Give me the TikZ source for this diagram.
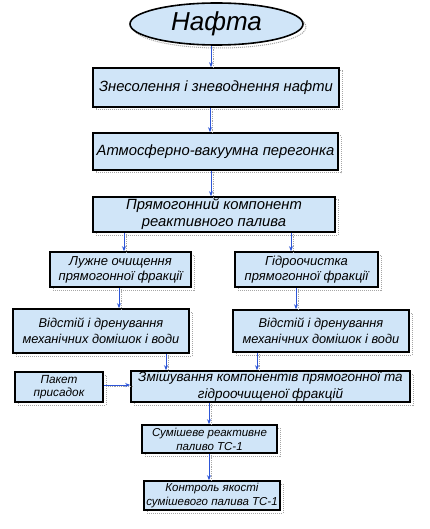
\documentclass[tikz,border=0pt]{standalone}
\usepackage{fontspec}
\setmainfont{Liberation Sans}
\usetikzlibrary{arrows.meta,shapes.geometric}
\definecolor{boxfill}{RGB}{208,229,248}
\definecolor{arrblue}{RGB}{45,85,215}
\tikzset{
  x=1pt,y=-1pt,
  shadowed/.style={preaction={draw=gray!70,densely dotted,line width=1pt,fill=none,transform canvas={shift={(3pt,-3pt)}}}},
  box/.style={shadowed,draw=black,line width=1.6pt,fill=boxfill,inner sep=0pt,align=center,font=\itshape\fontsize{13}{15}\selectfont},
  bigbox/.style={box,font=\itshape\fontsize{14.8}{17}\selectfont},
  midbox/.style={box,font=\itshape\fontsize{12.8}{16.6}\selectfont},
  mixbox/.style={box,font=\itshape\fontsize{13.5}{16.6}\selectfont},
  pakbox/.style={box,font=\itshape\fontsize{11.8}{13.5}\selectfont},
  smallbox/.style={box,font=\itshape\fontsize{11.5}{14.2}\selectfont},
  oval/.style={shadowed,ellipse,draw=black,line width=1.6pt,fill=boxfill,inner sep=0pt,font=\itshape\fontsize{26}{28}\selectfont},
  arr/.style={draw=arrblue,line width=1pt,-{Stealth[length=5pt,width=4pt]},
    preaction={draw=gray!70,densely dotted,line width=0.8pt,-,transform canvas={shift={(2.5pt,-1pt)}}}}
}
\begin{document}
\begin{tikzpicture}
\useasboundingbox (0,0) rectangle (429,529);
\fill[white] (0,0) rectangle (429,529);
\node[oval,minimum width=173pt,minimum height=42pt] (n0) at (216.5,24) {Нафта};
\node[bigbox,minimum width=246pt,minimum height=39pt] (n1) at (216,87.5) {Знесолення і зневоднення нафти};
\node[bigbox,minimum width=245pt,minimum height=37pt] (n2) at (215.5,151.5) {Атмосферно-вакуумна перегонка};
\node[bigbox,minimum width=242pt,minimum height=35pt] (n3) at (214,214.5) {Прямогонний компонент\\реактивного палива};
\node[box,minimum width=141pt,minimum height=35pt] (n4) at (120.5,269.5) {Лужне очищення\\прямогонної фракції};
\node[box,minimum width=143pt,minimum height=35pt] (n5) at (306.5,269.5) {Гідроочистка\\прямогонної фракції};
\node[midbox,minimum width=176pt,minimum height=44pt] (n6) at (101,331) {Відстій і дренування\\механічних домішок і води};
\node[midbox,minimum width=176pt,minimum height=42pt] (n7) at (321,331) {Відстій і дренування\\механічних домішок і води};
\node[pakbox,minimum width=88pt,minimum height=30pt] (n8) at (59,387) {Пакет\\присадок};
\node[mixbox,minimum width=279pt,minimum height=31pt] (n9) at (270.5,386.5) {Змішування компонентів прямогонної та\\гідроочищеної фракцій};
\node[smallbox,minimum width=135pt,minimum height=28pt] (n10) at (209.5,439) {Сумішеве реактивне\\паливо ТС-1};
\node[smallbox,minimum width=136pt,minimum height=29pt] (n11) at (212,495.5) {Контроль якості\\сумішевого палива ТС-1};
\draw[arr] ([xshift=-5.5pt]n0.south) -- ([xshift=-5pt]n1.north);
\draw[arr] ([xshift=-6pt]n1.south) -- ([xshift=-5.5pt]n2.north);
\draw[arr] ([xshift=-4.5pt]n2.south) -- ([xshift=-3pt]n3.north);
\draw[arr] ([xshift=-90pt]n3.south) -- ([xshift=3.5pt]n4.north);
\draw[arr] ([xshift=77pt]n3.south) -- ([xshift=-15.5pt]n5.north);
\draw[arr] ([xshift=-1.5pt]n4.south) -- ([xshift=18pt]n6.north);
\draw[arr] ([xshift=-10.5pt]n5.south) -- ([xshift=-25pt]n7.north);
\draw[arr] ([xshift=65pt]n6.south) -- ([xshift=-104.5pt]n9.north);
\draw[arr] ([xshift=-64pt]n7.south) -- ([xshift=-13.5pt]n9.north);
\draw[arr] ([yshift=2pt]n8.east) -- ([yshift=1.5pt]n9.west);
\draw[arr] ([xshift=-61.5pt]n9.south) -- ([xshift=-0.5pt]n10.north);
\draw[arr] ([xshift=-0.5pt]n10.south) -- ([xshift=-3pt]n11.north);
\end{tikzpicture}
\end{document}
